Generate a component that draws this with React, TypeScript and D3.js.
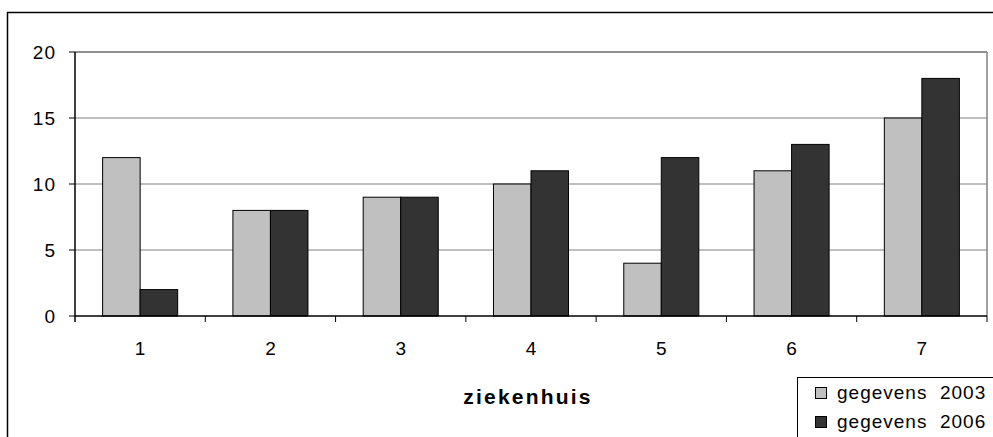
import React from "react";
import * as d3 from "d3";

const categories = ["1", "2", "3", "4", "5", "6", "7"];
const series2003 = [12, 8, 9, 10, 4, 11, 15];
const series2006 = [2, 8, 9, 11, 12, 13, 18];
const yTicks = [0, 5, 10, 15, 20];
const seriesNames = ["gegevens  2003", "gegevens  2006"];
const seriesColors = ["#c0c0c0", "#333333"];

export default function App() {
  const W = 993, H = 437;
  const left = 75, right = 987, top = 52, bottom = 316;
  const x = d3.scaleBand<string>().domain(categories).range([left, right]).paddingInner(0).paddingOuter(0);
  const y = d3.scaleLinear().domain([0, 20]).range([bottom, top]);
  const bw = x.bandwidth();
  const barW = bw * 0.288;
  const font = "'Liberation Sans', Arial, sans-serif";
  const seriesList = [series2003, series2006];

  return (
    <div style={{ position: "absolute", left: 0, top: 0 }}>
      <svg width={W} height={H} style={{ display: "block" }} fontFamily={font}>
        <rect x={0} y={0} width={W} height={H} fill="#fff" />
        <path d={`M7.5,${H} L7.5,12.5 L${W},12.5`} fill="none" stroke="#000" strokeWidth={1.5} />
        {yTicks.filter((t) => t > 0).map((t) => (
          <line key={t} x1={left} x2={right} y1={y(t)} y2={y(t)} stroke="#808080" strokeWidth={1} />
        ))}
        <line x1={right} x2={right} y1={top} y2={bottom} stroke="#808080" strokeWidth={1.5} />
        <line x1={left} x2={right} y1={top} y2={top} stroke="#808080" strokeWidth={1.5} />
        {categories.map((c, i) => {
          const center = (x(c) as number) + bw / 2;
          return seriesList.map((s, k) => {
            const bx = center - barW + k * barW;
            return (
              <rect
                key={`${c}-${k}`}
                x={bx}
                y={y(s[i])}
                width={barW}
                height={y(0) - y(s[i])}
                fill={seriesColors[k]}
                stroke="#000"
                strokeWidth={1}
              />
            );
          });
        })}
        <line x1={left} x2={left} y1={top} y2={bottom + 6} stroke="#000" strokeWidth={1.5} />
        {yTicks.map((t) => (
          <g key={t}>
            <line x1={left - 6} x2={left} y1={y(t)} y2={y(t)} stroke="#000" strokeWidth={1} />
            <text x={56} y={y(t)} dy="0.38em" textAnchor="end" fontSize={19} letterSpacing={1} fill="#000">
              {t}
            </text>
          </g>
        ))}
        <line x1={left} x2={right} y1={bottom} y2={bottom} stroke="#000" strokeWidth={1.5} />
        {categories.map((c) => (
          <line key={c} x1={(x(c) as number) + bw} x2={(x(c) as number) + bw} y1={bottom} y2={bottom + 6} stroke="#000" strokeWidth={1} />
        ))}
        {categories.map((c) => (
          <text key={c} x={(x(c) as number) + bw / 2 + 0.5} y={355} textAnchor="middle" fontSize={19} letterSpacing={1} fill="#000">
            {c}
          </text>
        ))}
        <text x={528} y={404} textAnchor="middle" fontSize={21} fontWeight="bold" letterSpacing={2.2} fill="#000">
          ziekenhuis
        </text>
        <rect x={797.5} y={377.5} width={W} height={H} fill="#fff" stroke="#000" strokeWidth={1} />
        {seriesNames.map((n, k) => (
          <g key={n}>
            <rect x={815.5} y={387.5 + k * 29} width={11} height={11} fill={seriesColors[k]} stroke="#000" strokeWidth={1} />
            <text x={837} y={399 + k * 29} fontSize={19} letterSpacing={1} fill="#000" style={{ whiteSpace: "pre" }}>
              {n}
            </text>
          </g>
        ))}
      </svg>
    </div>
  );
}
